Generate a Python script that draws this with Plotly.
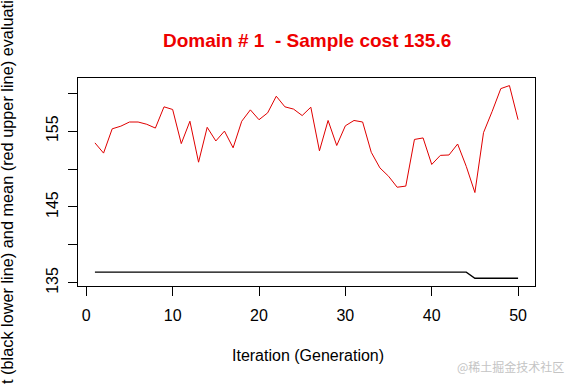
import plotly.graph_objects as go

generation = list(range(1, 51))
mean_cost = [153.45, 152.1, 155.3, 155.65, 156.2, 156.2, 155.9, 155.4, 158.2, 157.85,
             153.35, 156.3, 150.9, 155.5, 153.7, 155.0, 152.8, 156.3, 157.8, 156.5,
             157.4, 159.6, 158.2, 157.9, 157.05, 158.15, 152.4, 156.4, 153.1, 155.7,
             156.4, 156.2, 152.2, 150.15, 149.05, 147.6, 147.75, 153.9, 154.1, 150.6,
             151.8, 151.85, 153.3, 150.35, 146.9, 154.8, 157.6, 160.6, 161.0, 156.5]
best_cost = [136.4] * 44 + [135.6] * 6

x_ticks = [0, 10, 20, 30, 40, 50]
y_ticks = [135, 140, 145, 150, 155, 160]
y_ticktext = ["135", "", "145", "", "155", ""]

title_text = "Domain # 1  - Sample cost 135.6"
x_title = "Iteration (Generation)"
y_title = "Best (black lower line) and mean (red upper line) evaluation"
watermark = "@稀土掘金技术社区"

font = "Liberation Sans, Arial, sans-serif"

fig = go.Figure()
fig.add_trace(go.Scatter(x=generation, y=mean_cost, mode="lines",
                         line=dict(color="#e00000", width=1), showlegend=False))
fig.add_trace(go.Scatter(x=generation, y=best_cost, mode="lines",
                         line=dict(color="black", width=1.3), showlegend=False))

L, R, T, B = 78, 41, 78, 98
W, H = 576, 384
pw, ph = W - L - R, H - T - B

fig.update_layout(
    width=W, height=H,
    margin=dict(l=L, r=R, t=T, b=B),
    paper_bgcolor="white", plot_bgcolor="white",
    font=dict(family=font, size=16, color="black"),
    xaxis=dict(range=[-0.96, 51.96], tickvals=x_ticks, showgrid=False, zeroline=False,
               showline=True, linecolor="black", linewidth=1, mirror=True,
               ticks="outside", ticklen=9, tickcolor="black", tickwidth=1,
               ticklabelstandoff=6, tickfont=dict(size=16)),
    yaxis=dict(range=[134.58, 162.0], tickvals=y_ticks, ticktext=y_ticktext,
               showgrid=False, zeroline=False,
               showline=True, linecolor="black", linewidth=1, mirror=True,
               ticks="outside", ticklen=9, tickcolor="black", tickwidth=1,
               tickangle=-90, ticklabelstandoff=4, tickfont=dict(size=16)),
    annotations=[
        dict(text="<b>" + title_text + "</b>", xref="paper", yref="paper",
             x=0.5, y=1 + (T - 40) / ph, xanchor="center", yanchor="middle",
             showarrow=False, font=dict(size=19, color="#ee0000", family=font)),
        dict(text=x_title, xref="paper", yref="paper",
             x=(308 - L) / pw, y=-(355 - (H - B)) / ph, xanchor="center", yanchor="middle",
             showarrow=False, font=dict(size=16, color="black", family=font)),
        dict(text=y_title, xref="paper", yref="paper", textangle=-90,
             x=(7 - L) / pw, y=((H - B) - 197) / ph, xanchor="center", yanchor="middle",
             showarrow=False, font=dict(size=16.3, color="black", family=font)),
        dict(text=watermark, xref="paper", yref="paper",
             x=(510 - L) / pw, y=-(366 - (H - B)) / ph, xanchor="center", yanchor="middle",
             showarrow=False, font=dict(size=12, color="#c4c4c4", family="Noto Sans CJK SC")),
    ],
)

fig.write_html("out.html", config={"displayModeBar": False},
               post_script="document.body.style.margin='0';")
